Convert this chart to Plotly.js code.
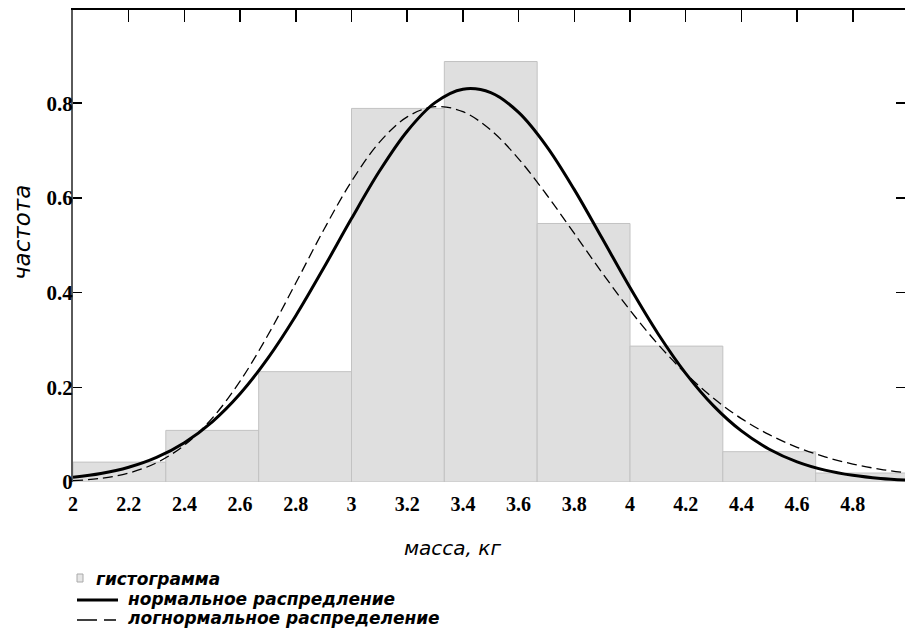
<!DOCTYPE html>
<html><head><meta charset="utf-8">
<script src="https://cdn.plot.ly/plotly-3.0.1.min.js"></script>
<style>html,body{margin:0;padding:0;background:#fff}</style>
</head><body><div id="chart" style="width:905px;height:630px"></div>
<script>
// ---- data ----
const binLeft = [2, 2.3333, 2.6667, 3, 3.3333, 3.6667, 4, 4.3333, 4.6667];
const binFreq = [0.042, 0.109, 0.233, 0.789, 0.888, 0.546, 0.287, 0.064, 0.019];
const binWidth = 1 / 3;
const curveX = [2.0, 2.1, 2.2, 2.3, 2.4, 2.5, 2.6, 2.7, 2.8, 2.9, 3.0, 3.1, 3.2, 3.3, 3.4, 3.5,
                3.6, 3.7, 3.8, 3.9, 4.0, 4.1, 4.2, 4.3, 4.4, 4.5, 4.6, 4.7, 4.8, 4.9, 5.0];
const normalY = [0.0098, 0.0179, 0.0312, 0.0520, 0.0831, 0.1272, 0.1864, 0.2616, 0.3512, 0.4518,
                 0.5563, 0.6562, 0.7409, 0.8012, 0.8295, 0.8223, 0.7806, 0.7095, 0.6175, 0.5146,
                 0.4106, 0.3137, 0.2295, 0.1608, 0.1079, 0.0693, 0.0426, 0.0251, 0.0142, 0.0076, 0.0039];
const lognormalY = [0.0027, 0.0077, 0.0189, 0.0406, 0.0778, 0.1348, 0.2131, 0.3104, 0.4202, 0.5322,
                    0.6348, 0.7172, 0.7712, 0.7927, 0.7821, 0.7433, 0.6825, 0.6072, 0.5249, 0.4418,
                    0.3628, 0.2913, 0.2292, 0.1767, 0.1339, 0.0999, 0.0733, 0.0531, 0.0379, 0.0268, 0.0187];
const xTickVals = [2, 2.2, 2.4, 2.6, 2.8, 3, 3.2, 3.4, 3.6, 3.8, 4, 4.2, 4.4, 4.6, 4.8];
const yTickVals = [0, 0.2, 0.4, 0.6, 0.8];
const legendLabels = ['гистограмма', 'нормальное распредление', 'логнормальное распределение'];
const xTitle = 'масса, кг';
const yTitle = 'частота';

// ---- geometry helpers (pixel -> paper) ----
const W = 905, H = 630, M = {l: 73, r: 0, t: 10, b: 148};
const PW = W - M.l - M.r, PH = H - M.t - M.b;
const px = x => (x - M.l) / PW;
const py = y => (H - M.b - y) / PH;

const xTickFont = {family: 'Liberation Serif', size: 20, color: '#000', weight: 700};
const yTickFont = {family: 'Liberation Serif', size: 21, color: '#000', weight: 700};
const legFont = {family: 'DejaVu Sans', size: 17, color: '#000', style: 'italic', weight: 700};

const traces = [
  {type: 'bar', x: binLeft, y: binFreq, width: binWidth, offset: 0,
   marker: {color: '#dfdfdf', line: {color: '#c2c2c2', width: 1}},
   hoverinfo: 'x+y', showlegend: false},
  {type: 'scatter', mode: 'lines', x: curveX, y: lognormalY, xaxis: 'x2', yaxis: 'y2',
   line: {color: '#000', width: 1.3, dash: '10px,5px', shape: 'spline'}, showlegend: false},
  {type: 'scatter', mode: 'lines', x: curveX, y: normalY, xaxis: 'x2', yaxis: 'y2',
   line: {color: '#000', width: 3, shape: 'spline'}, showlegend: false}
];

const xr = [2, 2 + PW / 278.5];
const yr = [0, PH / 473.5];

const layout = {
  width: W, height: H, margin: M,
  paper_bgcolor: '#fff', plot_bgcolor: '#fff',
  bargap: 0,
  showlegend: false,
  xaxis: {range: xr, tickvals: xTickVals, ticks: '', showline: false, showgrid: false, zeroline: false,
          tickfont: xTickFont, ticklabelstandoff: 8},
  yaxis: {range: yr, tickvals: yTickVals, ticks: 'inside', ticklen: 9, tickwidth: 1.5, tickcolor: '#000',
          showline: true, linecolor: '#5a5a5a', linewidth: 2, showgrid: false, zeroline: false,
          tickfont: yTickFont, ticklabelstandoff: -6},
  xaxis2: {overlaying: 'x', side: 'top', matches: 'x', range: xr, tickvals: xTickVals.slice(1),
           ticks: 'inside', ticklen: 12, tickwidth: 1.5, tickcolor: '#000',
           showticklabels: false, showline: true, linecolor: '#000', linewidth: 2,
           showgrid: false, zeroline: false},
  yaxis2: {overlaying: 'y', side: 'right', matches: 'y', range: yr, tickvals: yTickVals.slice(1),
           ticks: 'inside', ticklen: 9, tickwidth: 1.5, tickcolor: '#000',
           showticklabels: false, showline: false, showgrid: false, zeroline: false},
  annotations: [
    {text: xTitle, xref: 'paper', yref: 'paper', x: px(452), y: py(548), xanchor: 'center', yanchor: 'middle',
     showarrow: false, font: {family: 'DejaVu Sans', size: 20, color: '#000', style: 'italic'}},
    {text: yTitle, xref: 'paper', yref: 'paper', x: px(22), y: py(233), xanchor: 'center', yanchor: 'middle',
     textangle: -90, showarrow: false, font: {family: 'DejaVu Sans', size: 23, color: '#000', style: 'italic'}},
    {text: legendLabels[0], xref: 'paper', yref: 'paper', x: px(94), y: py(579), xanchor: 'left', yanchor: 'middle',
     showarrow: false, font: legFont},
    {text: legendLabels[1], xref: 'paper', yref: 'paper', x: px(126), y: py(599), xanchor: 'left', yanchor: 'middle',
     showarrow: false, font: legFont},
    {text: legendLabels[2], xref: 'paper', yref: 'paper', x: px(126), y: py(618), xanchor: 'left', yanchor: 'middle',
     showarrow: false, font: legFont}
  ],
  shapes: [
    {type: 'rect', xref: 'paper', yref: 'paper', x0: px(77), x1: px(83), y0: py(582), y1: py(574),
     fillcolor: '#e6e6e6', line: {color: '#aaaaaa', width: 1}},
    {type: 'line', xref: 'paper', yref: 'paper', x0: px(77), x1: px(118), y0: py(600), y1: py(600),
     line: {color: '#000', width: 3}},
    {type: 'line', xref: 'paper', yref: 'paper', x0: px(77), x1: px(116), y0: py(620), y1: py(620),
     line: {color: '#000', width: 1.3, dash: '20px,7px,12px,100px'}}
  ]
};

Plotly.newPlot('chart', traces, layout, {displayModeBar: false, staticPlot: true});
</script></body></html>
